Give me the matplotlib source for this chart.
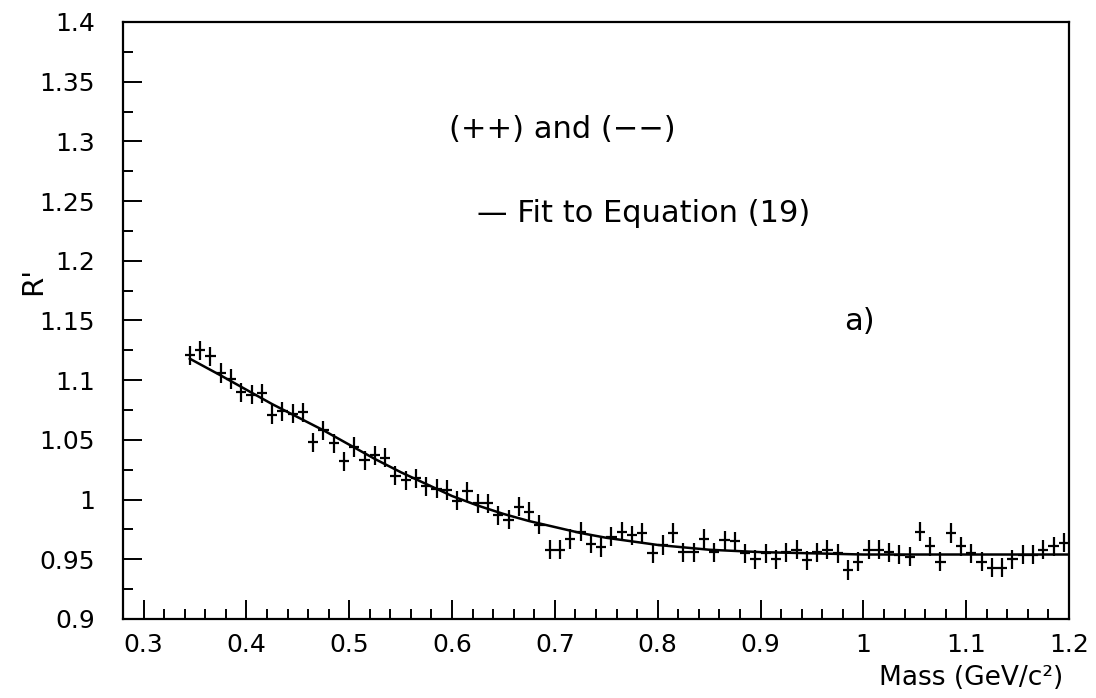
import numpy as np
import matplotlib
matplotlib.use("Agg")
import matplotlib.pyplot as plt
from matplotlib.ticker import MultipleLocator, FormatStrFormatter

plt.rcParams['font.family'] = ['DejaVu Sans']

# data points, bins of 0.01 GeV
mass = np.round(np.arange(0.345, 1.2, 0.01), 3)
ratio = [1.121, 1.125, 1.120, 1.106, 1.101, 1.090, 1.088, 1.089, 1.071, 1.074,
         1.072, 1.073, 1.048, 1.058, 1.047, 1.032, 1.044, 1.033, 1.037, 1.035,
         1.020, 1.016, 1.018, 1.011, 1.009, 1.008, 0.999, 1.007, 0.997, 0.997,
         0.987, 0.983, 0.994, 0.990, 0.979, 0.958, 0.958, 0.967, 0.973, 0.963,
         0.960, 0.969, 0.973, 0.970, 0.972, 0.955, 0.962, 0.972, 0.956, 0.956,
         0.967, 0.956, 0.966, 0.965, 0.955, 0.950, 0.955, 0.950, 0.956, 0.958,
         0.949, 0.956, 0.958, 0.955, 0.941, 0.948, 0.958, 0.958, 0.956, 0.954,
         0.952, 0.973, 0.961, 0.948, 0.972, 0.961, 0.955, 0.948, 0.943, 0.943,
         0.950, 0.954, 0.954, 0.958, 0.961, 0.964]
ratio_err = 0.008
bin_half = 0.005

# fit curve (Equation 19)
fit_x = [0.345, 0.375, 0.40, 0.425, 0.45, 0.475, 0.50, 0.525, 0.55, 0.575,
         0.60, 0.625, 0.65, 0.675, 0.70, 0.725, 0.75, 0.80, 0.85, 0.90,
         0.95, 1.00, 1.05, 1.10, 1.15, 1.20]
fit_y = [1.118, 1.104, 1.092, 1.080, 1.069, 1.058, 1.046, 1.034, 1.023, 1.013,
         1.003, 0.995, 0.988, 0.982, 0.977, 0.972, 0.968, 0.962, 0.958, 0.956,
         0.955, 0.954, 0.954, 0.954, 0.954, 0.954]

fig = plt.figure(figsize=(10.96, 6.98), dpi=100)
ax = fig.add_axes([0.1122, 0.1132, 0.8632, 0.8553])

ax.errorbar(mass, ratio, xerr=bin_half, yerr=ratio_err, fmt='none',
            ecolor='black', elinewidth=1.6, capsize=0)
ax.plot(fit_x, fit_y, color='black', lw=1.8)

ax.set_xlim(0.28, 1.2)
ax.set_ylim(0.9, 1.4)

ax.xaxis.set_major_locator(MultipleLocator(0.1))
ax.xaxis.set_minor_locator(MultipleLocator(0.02))
ax.yaxis.set_major_locator(MultipleLocator(0.05))
ax.yaxis.set_minor_locator(MultipleLocator(0.025))
ax.xaxis.set_major_formatter(FormatStrFormatter('%g'))
ax.yaxis.set_major_formatter(FormatStrFormatter('%g'))

ax.tick_params(which='both', direction='in', top=False, right=False,
               width=1.4, labelsize=18)
ax.tick_params(which='major', length=14)
ax.tick_params(which='minor', length=7)
ax.tick_params(axis='x', pad=10)
ax.tick_params(axis='y', pad=20)
for s in ax.spines.values():
    s.set_linewidth(1.6)

ax.text(0.5975, 1.3096, '(++) and (\u2212\u2212)', fontsize=22, va='center')
ax.text(0.6247, 1.240, '\u2014 Fit to Equation (19)', fontsize=22, va='center')
ax.text(0.981, 1.149, 'a)', fontsize=22, va='center')

fig.text(0.9700, 0.010, 'Mass (GeV/c\u00b2)', fontsize=19, ha='right', va='bottom')
fig.text(0.030, 0.598, "R'", fontsize=21, rotation=90, ha='center', va='center')

fig.savefig('out.png', dpi=100)
